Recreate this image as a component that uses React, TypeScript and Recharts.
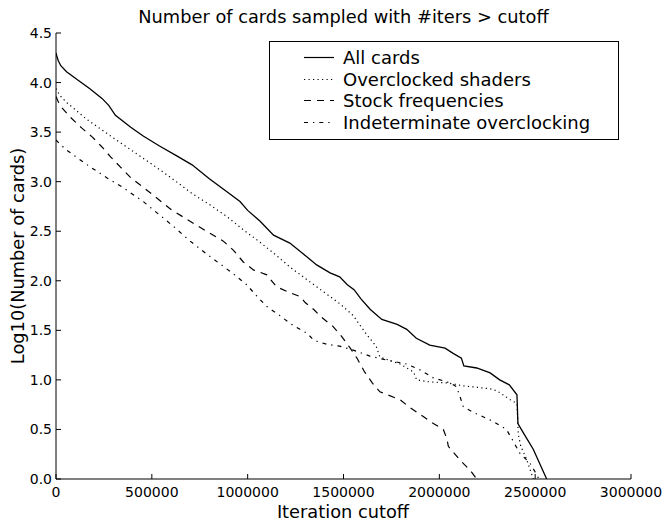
import React from "react";
import { LineChart, Line, XAxis, YAxis, Legend, Label } from "recharts";

// iteration cutoff (x) and log10(number of cards) (y) per series
const allCardsIter = [0, 5000, 12000, 25000, 55000, 110000, 175000, 240000, 275000, 310000, 390000, 455000, 540000, 630000, 710000, 800000, 890000, 960000, 1000000, 1065000, 1135000, 1220000, 1310000, 1360000, 1430000, 1480000, 1520000, 1555000, 1590000, 1640000, 1700000, 1780000, 1830000, 1880000, 1950000, 2030000, 2070000, 2115000, 2128000, 2195000, 2265000, 2315000, 2365000, 2405000, 2410000, 2440000, 2490000, 2560000];
const allCardsLog = [4.3, 4.26, 4.22, 4.17, 4.11, 4.03, 3.94, 3.84, 3.77, 3.67, 3.55, 3.46, 3.36, 3.26, 3.17, 3.03, 2.9, 2.8, 2.71, 2.6, 2.46, 2.38, 2.24, 2.16, 2.08, 2.04, 1.96, 1.91, 1.82, 1.71, 1.61, 1.56, 1.51, 1.42, 1.35, 1.32, 1.27, 1.22, 1.14, 1.12, 1.07, 1.0, 0.95, 0.85, 0.56, 0.46, 0.3, 0.0];

const shadersIter = [0, 20000, 55000, 160000, 300000, 490000, 600000, 710000, 800000, 890000, 980000, 1050000, 1135000, 1220000, 1310000, 1395000, 1480000, 1550000, 1620000, 1670000, 1690000, 1795000, 1865000, 1882000, 1950000, 2040000, 2125000, 2265000, 2300000, 2370000, 2405000, 2412000, 2425000, 2455000, 2490000];
const shadersLog = [3.94, 3.87, 3.8, 3.63, 3.44, 3.19, 3.04, 2.88, 2.77, 2.65, 2.51, 2.41, 2.28, 2.14, 2.01, 1.89, 1.77, 1.65, 1.46, 1.34, 1.23, 1.16, 1.08, 1.0, 0.98, 0.97, 0.94, 0.91, 0.89, 0.8, 0.76, 0.45, 0.33, 0.2, 0.0];

const stockIter = [0, 20000, 75000, 135000, 190000, 240000, 285000, 335000, 390000, 490000, 600000, 716000, 803000, 873000, 925000, 977000, 1030000, 1100000, 1150000, 1220000, 1275000, 1300000, 1345000, 1380000, 1445000, 1490000, 1535000, 1570000, 1610000, 1650000, 1690000, 1795000, 1847000, 1916000, 1969000, 2021000, 2040000, 2047000, 2108000, 2160000, 2195000];
const stockLog = [3.86, 3.77, 3.65, 3.54, 3.45, 3.35, 3.25, 3.15, 3.04, 2.89, 2.72, 2.58, 2.48, 2.4, 2.31, 2.19, 2.11, 2.06, 1.94, 1.88, 1.84, 1.78, 1.71, 1.64, 1.54, 1.44, 1.32, 1.22, 1.08, 0.97, 0.88, 0.8, 0.72, 0.63, 0.56, 0.5, 0.4, 0.33, 0.19, 0.09, 0.0];

const indetIter = [0, 20000, 55000, 90000, 170000, 265000, 350000, 455000, 612000, 700000, 786000, 856000, 925000, 995000, 1050000, 1100000, 1160000, 1221000, 1273000, 1310000, 1345000, 1377000, 1412000, 1480000, 1551000, 1638000, 1725000, 1830000, 1900000, 1969000, 2056000, 2090000, 2108000, 2125000, 2180000, 2282000, 2350000, 2380000, 2420000, 2473000, 2500000, 2520000];
const indetLog = [3.42, 3.38, 3.32, 3.27, 3.16, 3.04, 2.94, 2.8, 2.55, 2.4, 2.27, 2.17, 2.07, 1.96, 1.84, 1.74, 1.66, 1.57, 1.51, 1.47, 1.4, 1.38, 1.36, 1.34, 1.3, 1.24, 1.2, 1.16, 1.1, 1.02, 0.97, 0.93, 0.83, 0.73, 0.67, 0.58, 0.5, 0.4, 0.26, 0.16, 0.07, 0.0];

const seriesNames = ["All cards", "Overclocked shaders", "Stock frequencies", "Indeterminate overclocking"];
const xTicks = [0, 500000, 1000000, 1500000, 2000000, 2500000, 3000000];
const yTicks = [0, 0.5, 1, 1.5, 2, 2.5, 3, 3.5, 4, 4.5];

const FONT = "'DejaVu Sans', sans-serif";
const dashes = ["", "1.2 3.3", "7 6", "4 5 1.3 5"];

const zip = (xs: number[], ys: number[]) => xs.map((x, i) => ({ x, y: ys[i] }));
const series = [
  zip(allCardsIter, allCardsLog),
  zip(shadersIter, shadersLog),
  zip(stockIter, stockLog),
  zip(indetIter, indetLog),
];

const BottomTick = (props: any) => {
  const { x, y, payload } = props;
  return (
    <g>
      <line x1={x} x2={x} y1={y} y2={y - 5} stroke="#000" />
      <text x={x} y={y + 13} textAnchor="middle" dominantBaseline="central" fontSize={14} fontFamily={FONT} fill="#000">
        {payload.value}
      </text>
    </g>
  );
};

const TopTick = (props: any) => {
  const { x, y } = props;
  return <line x1={x} x2={x} y1={y} y2={y + 5} stroke="#000" />;
};

const LeftTick = (props: any) => {
  const { x, y, payload } = props;
  return (
    <g>
      <line x1={x} x2={x + 5} y1={y} y2={y} stroke="#000" />
      <text x={x - 4} y={y} textAnchor="end" dominantBaseline="central" fontSize={14} fontFamily={FONT} fill="#000">
        {payload.value.toFixed(1)}
      </text>
    </g>
  );
};

const RightTick = (props: any) => {
  const { x, y } = props;
  return <line x1={x} x2={x - 5} y1={y} y2={y} stroke="#000" />;
};

const LegendBox = () => (
  <div
    style={{
      border: "1px solid #000",
      background: "#fff",
      boxSizing: "border-box",
      width: 350,
      height: 99,
      paddingTop: 5,
      fontFamily: FONT,
      fontSize: 18,
    }}
  >
    {seriesNames.map((name, i) => (
      <div key={name} style={{ height: 21.5, display: "flex", alignItems: "center" }}>
        <svg width={73} height={21} style={{ flex: "none" }}>
          <line x1={34} x2={64} y1={10.5} y2={10.5} stroke="#000" strokeWidth={1.2} strokeDasharray={dashes[i]} />
        </svg>
        <span style={{ lineHeight: "21px", whiteSpace: "nowrap" }}>{name}</span>
      </div>
    ))}
  </div>
);

const App = () => {
  return (
    <div style={{ position: "absolute", left: 0, top: 0, width: 665, height: 521, background: "#fff" }}>
      <div
        style={{
          position: "absolute",
          left: 56,
          top: 6,
          width: 575,
          textAlign: "center",
          fontFamily: FONT,
          fontSize: 17.8,
          lineHeight: "22px",
          whiteSpace: "nowrap",
        }}
      >
        Number of cards sampled with #iters &gt; cutoff
      </div>
      <LineChart width={665} height={521} margin={{ top: 33, right: 34, bottom: 0, left: 0 }}>
        <XAxis
          dataKey="x"
          type="number"
          domain={[0, 3000000]}
          ticks={xTicks}
          allowDataOverflow
          height={42}
          tickSize={0}
          tickMargin={0}
          tick={<BottomTick />}
          axisLine={{ stroke: "#000", strokeWidth: 1 }}
          interval={0}
        >
          <Label
            content={() => (
              <text x={343} y={511} textAnchor="middle" dominantBaseline="central" fontSize={17.8} fontFamily={FONT} fill="#000">
                Iteration cutoff
              </text>
            )}
          />
        </XAxis>
        <XAxis
          xAxisId="top"
          orientation="top"
          type="number"
          domain={[0, 3000000]}
          ticks={xTicks}
          allowDataOverflow
          height={0}
          tickSize={0}
          tick={<TopTick />}
          axisLine={{ stroke: "#000" }}
          interval={0}
        />
        <YAxis
          type="number"
          domain={[0, 4.5]}
          ticks={yTicks}
          allowDataOverflow
          width={56}
          tickSize={0}
          tickMargin={0}
          tick={<LeftTick />}
          axisLine={{ stroke: "#000" }}
          interval={0}
        >
          <Label
            content={() => (
              <text
                x={17}
                y={256}
                transform="rotate(-90 17 256)"
                textAnchor="middle"
                dominantBaseline="central"
                fontSize={17.8}
                fontFamily={FONT}
                fill="#000"
              >
                Log10(Number of cards)
              </text>
            )}
          />
        </YAxis>
        <YAxis
          yAxisId="right"
          orientation="right"
          type="number"
          domain={[0, 4.5]}
          ticks={yTicks}
          allowDataOverflow
          width={0}
          tickSize={0}
          tick={<RightTick />}
          axisLine={{ stroke: "#000" }}
          interval={0}
        />
        {series.map((d, i) => (
          <Line
            key={seriesNames[i]}
            data={d}
            dataKey="y"
            name={seriesNames[i]}
            type="linear"
            stroke="#000"
            strokeWidth={i === 0 ? 1.3 : 1.2}
            strokeDasharray={dashes[i] || undefined}
            dot={false}
            activeDot={false}
            isAnimationActive={false}
          />
        ))}
        <Legend
          layout="vertical"
          align="center"
          verticalAlign="middle"
          content={<LegendBox />}
          wrapperStyle={{ left: 269, top: 41, width: 350, height: 99 }}
        />
      </LineChart>
    </div>
  );
};

export default App;
